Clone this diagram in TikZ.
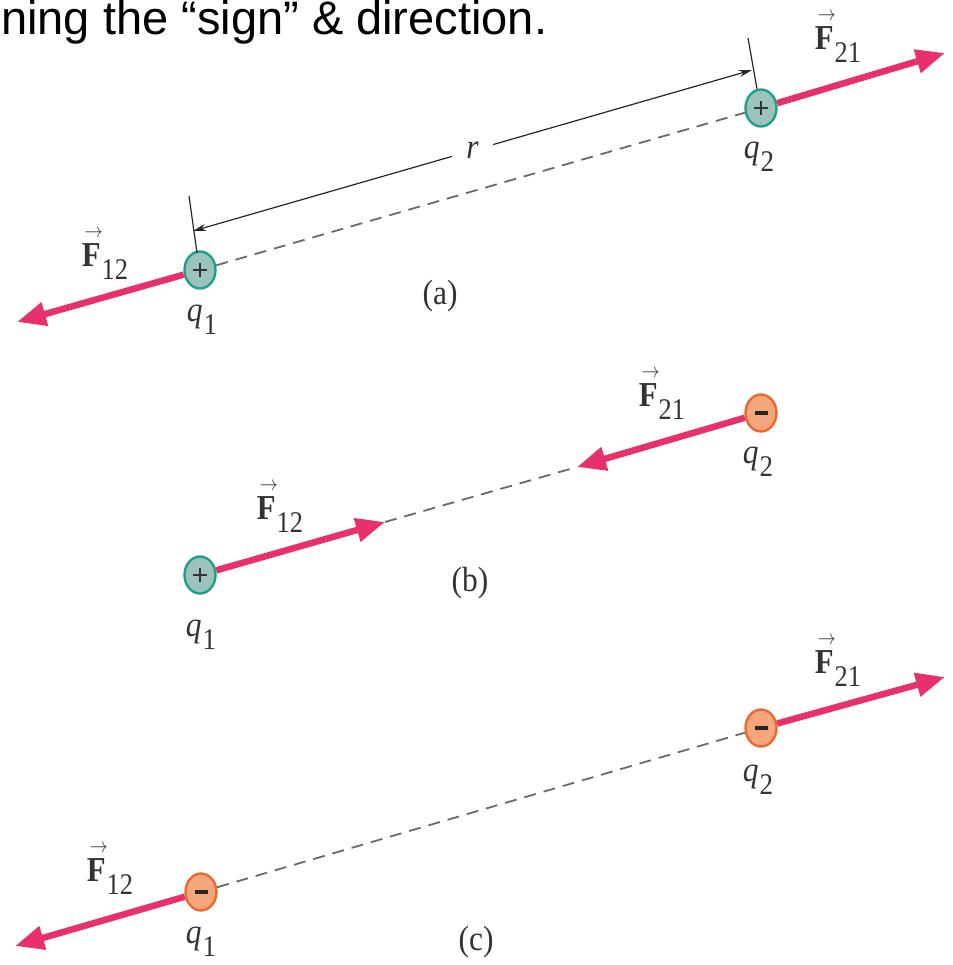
\documentclass[tikz,border=0pt]{standalone}
\usepackage{graphicx}
\usepackage{fontspec}
\newfontfamily\arialfont{Liberation Sans}
\newfontfamily\lblfont{Liberation Serif}
\usetikzlibrary{arrows.meta,shapes.geometric}
\definecolor{forcecol}{HTML}{E8306A}
\definecolor{posfill}{HTML}{9CC4BC}
\definecolor{posdraw}{HTML}{1FA08C}
\definecolor{negfill}{HTML}{F5A67A}
\definecolor{negdraw}{HTML}{E86A30}
\definecolor{dashcol}{HTML}{6A6A6A}
\newcommand{\subsz}[1]{\raisebox{-13pt}{\fontsize{30}{30}\selectfont #1}}
\newcommand{\Fvec}[1]{\scalebox{0.88}[1]{\rlap{\raisebox{29pt}{\kern3pt\fontsize{20}{20}\selectfont$\rightarrow$}}\textbf{F}\kern1pt\subsz{#1}}}
\newcommand{\qlab}[1]{\scalebox{0.9}[1]{\textit{q}\kern1pt\subsz{#1}}}
\newcommand{\sqz}[1]{\scalebox{0.9}[1]{#1}}
\begin{document}
\begin{tikzpicture}[x=1pt,y=-1pt,
  lbl/.style={font=\lblfont\fontsize{35}{38}\selectfont, inner sep=0pt, text=black!80},
  charge/.style={ellipse, minimum width=31pt, minimum height=37pt, inner sep=0pt, line width=2.4pt},
  poscharge/.style={charge, draw=posdraw, fill=posfill,
    path picture={\draw[line width=2.6pt,black!80]
      ([xshift=-7pt]path picture bounding box.center) -- ([xshift=7pt]path picture bounding box.center)
      ([yshift=-7pt]path picture bounding box.center) -- ([yshift=7pt]path picture bounding box.center);}},
  negcharge/.style={charge, draw=negdraw, fill=negfill,
    path picture={\draw[line width=3.2pt,black!85]
      ([xshift=-6.5pt]path picture bounding box.center) -- ([xshift=6.5pt]path picture bounding box.center);}},
  force/.style={draw=forcecol, line width=6.5pt, -{Triangle[length=29pt,width=23pt]}},
  dashline/.style={draw=dashcol, line width=1.8pt, dash pattern=on 12pt off 8pt},
  dimline/.style={draw=black!85, line width=1.2pt},
]
\useasboundingbox (0,0) rectangle (952,965);

\node[anchor=base west, inner sep=0pt] (title) at (1,35)
  {\arialfont\fontsize{47}{50}\selectfont ning the “sign” \& direction.};

% ---------- (a)
\node[poscharge] (qa1) at (200,270) {};
\node[poscharge] (qa2) at (761,108) {};
\coordinate (fa12) at (17,322);
\coordinate (fa21) at (945,53);
\draw[dashline] (qa1) -- (qa2);
\draw[force] (qa1) -- (fa12);
\draw[force] (qa2) -- (fa21);
\coordinate (ea1) at (189,196);
\coordinate (ea1b) at (197,253);
\coordinate (ea2) at (748,38);
\coordinate (ea2b) at (757,89);
\draw[dimline] (ea1) -- (ea1b);
\draw[dimline] (ea2) -- (ea2b);
\coordinate (da1) at (193,231);
\coordinate (da2) at (752,70);
\draw[dimline, {Stealth[length=13pt,width=7pt]}-{Stealth[length=13pt,width=7pt]}] (da1) -- node[lbl, fill=white, inner xsep=14pt, inner ysep=2pt] (rl) {\sqz{\textit{r}}} (da2);
\node[lbl] (la12) at (105,255) {\Fvec{12}};
\node[lbl] (la21) at (838,38) {\Fvec{21}};
\node[lbl] (lqa1) at (202,320) {\qlab{1}};
\node[lbl] (lqa2) at (759,157) {\qlab{2}};
\node[lbl] (capa) at (440,296) {\sqz{(a)}};

% ---------- (b)
\node[poscharge] (qb1) at (200,575) {};
\node[negcharge] (qb2) at (761,413) {};
\coordinate (fb12) at (385,522);
\coordinate (fb21) at (577,467);
\draw[dashline] (fb12) -- (fb21);
\draw[force] (qb1) -- (fb12);
\draw[force] (qb2) -- (fb21);
\node[lbl] (lb12) at (280,508) {\Fvec{12}};
\node[lbl] (lb21) at (662,395) {\Fvec{21}};
\node[lbl] (lqb1) at (201,635) {\qlab{1}};
\node[lbl] (lqb2) at (758,462) {\qlab{2}};
\node[lbl] (capb) at (470,583) {\sqz{(b)}};

% ---------- (c)
\node[negcharge] (qc1) at (201,892) {};
\node[negcharge] (qc2) at (761,728) {};
\coordinate (fc12) at (15,946);
\coordinate (fc21) at (945,677);
\draw[dashline] (qc1) -- (qc2);
\draw[force] (qc1) -- (fc12);
\draw[force] (qc2) -- (fc21);
\node[lbl] (lc12) at (110,870) {\Fvec{12}};
\node[lbl] (lc21) at (838,662) {\Fvec{21}};
\node[lbl] (lqc1) at (201,942) {\qlab{1}};
\node[lbl] (lqc2) at (758,780) {\qlab{2}};
\node[lbl] (capc) at (476,942) {\sqz{(c)}};
\end{tikzpicture}
\end{document}
